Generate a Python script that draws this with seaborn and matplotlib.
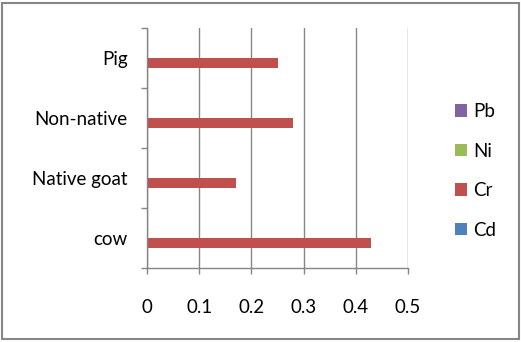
import matplotlib
matplotlib.use("Agg")
import matplotlib.pyplot as plt
import seaborn as sns
import pandas as pd
from matplotlib.patches import Rectangle

categories = ["Pig", "Non-native", "Native goat", "cow"]
metals = ["Pb", "Ni", "Cr", "Cd"]
cd_vals = [0, 0, 0, 0]
cr_vals = [0.25, 0.28, 0.17, 0.43]
ni_vals = [0, 0, 0, 0]
pb_vals = [0, 0, 0, 0]
colors = {"Pb": "#8064A2", "Ni": "#9BBB59", "Cr": "#C0504D", "Cd": "#4F81BD"}
xticks = [0, 0.1, 0.2, 0.3, 0.4, 0.5]

rows = []
for metal, vals in zip(["Cd", "Cr", "Ni", "Pb"], [cd_vals, cr_vals, ni_vals, pb_vals]):
    for c, v in zip(categories, vals):
        rows.append({"animal": c, "metal": metal, "value": v})
df = pd.DataFrame(rows)

sns.set_style("white")
plt.rcParams["font.family"] = ["Lato", "DejaVu Sans"]
plt.rcParams["text.color"] = "black"
plt.rcParams["xtick.color"] = "black"
plt.rcParams["ytick.color"] = "black"
FS = 13.5

fig = plt.figure(figsize=(5.21, 3.42), dpi=100)
ax = fig.add_axes([147/521, 1-268/342, (408-147)/521, (268-28)/342])

sns.barplot(data=df, y="animal", x="value", hue="metal", order=categories,
            hue_order=metals, palette=colors, orient="h", width=0.667,
            saturation=1, ax=ax, errorbar=None, linewidth=0)

ax.set_xlim(0, 0.5)
ax.set_ylim(3.5, -0.5)
ax.set_xticks(xticks)
ax.set_xticklabels([f"{t:g}" for t in xticks], fontsize=FS)
ax.xaxis.grid(True, color="#868686", linewidth=1)
ax.set_axisbelow(True)
ax.set_xlabel("")
ax.set_ylabel("")
ax.tick_params(axis="x", length=4, width=1, color="#868686", labelcolor="black", pad=18, direction="out", bottom=True)
ax.tick_params(axis="y", which="major", length=0, pad=14, labelsize=FS, labelcolor="black", left=True)
ax.set_yticks([-0.5, 0.5, 1.5, 2.5, 3.5], minor=True)
ax.tick_params(axis="y", which="minor", length=4, width=1, color="#868686", direction="out", left=True)
for side in ["top", "right"]:
    ax.spines[side].set_visible(False)
for side in ["left", "bottom"]:
    ax.spines[side].set_color("#868686")
    ax.spines[side].set_linewidth(1)

sns.move_legend(ax, loc="center left", bbox_to_anchor=(455/521, 1-171/342),
                bbox_transform=fig.transFigure, frameon=False, title=None,
                fontsize=FS, labelspacing=1.2, handlelength=0.65, handleheight=0.65,
                handletextpad=0.3, borderpad=0, borderaxespad=0)

fig.patches.append(Rectangle((1.5/521, 3.5/342), 517/521, 336/342, transform=fig.transFigure,
                             fill=False, edgecolor="#868686", linewidth=1.5))

fig.savefig("out.png", dpi=100)
